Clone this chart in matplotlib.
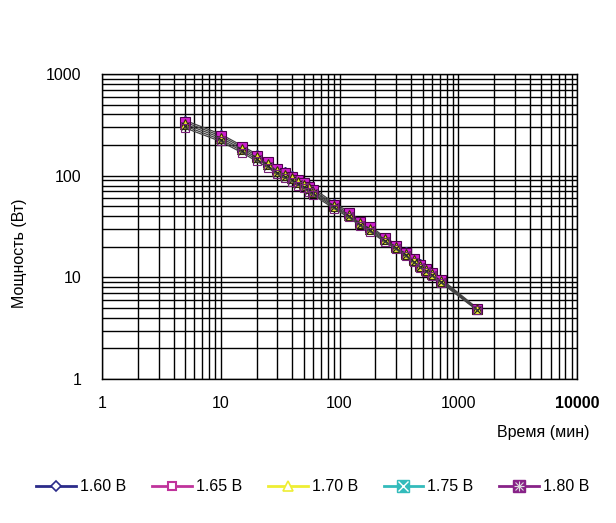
import matplotlib
matplotlib.use("Agg")
import matplotlib.pyplot as plt
from matplotlib.lines import Line2D
from matplotlib.ticker import LogLocator, NullFormatter

plt.rcParams['font.family'] = ['Liberation Sans', 'DejaVu Sans']

# time, minutes
time_min = [5, 10, 15, 20, 25, 30, 35, 40, 45, 50, 55, 60, 90, 120, 150,
            180, 240, 300, 360, 420, 480, 540, 600, 720, 1440]

# power, W, for each end voltage
p_160 = [350, 256, 198, 163, 140, 120, 110, 102, 93, 87, 81, 75, 54, 44, 36,
         32, 25, 21, 18, 15.5, 13.7, 12.4, 11.3, 9.6, 5.0]
p_165 = [336, 246, 191, 157, 135, 116, 106, 98, 90, 84, 78, 72, 52, 42.5, 35,
         31, 24.3, 20.4, 17.5, 15.1, 13.3, 12.1, 11.0, 9.4, 4.9]
p_170 = [322, 236, 183, 151, 130, 111, 102, 94, 86, 81, 75, 69.5, 50.5, 41, 34,
         30, 23.6, 19.8, 17.0, 14.7, 13.0, 11.8, 10.7, 9.2, 4.85]
p_175 = [308, 226, 176, 145, 125, 107, 98, 90.5, 83, 78, 72, 67, 49, 40, 33,
         29, 23.0, 19.3, 16.6, 14.3, 12.7, 11.5, 10.5, 9.0, 4.8]
p_180 = [295, 217, 169, 139, 120, 103, 94, 87, 80, 75, 69.5, 64.5, 47.5, 38.8, 32,
         28.2, 22.4, 18.8, 16.2, 14.0, 12.4, 11.2, 10.3, 8.8, 4.75]

labels = ['1.60 В', '1.65 В', '1.70 В', '1.75 В', '1.80 В']
colors = ['#2b2b8a', '#c0339c', '#eeee33', '#33bbbb', '#882288']

fig = plt.figure(figsize=(6.16, 5.23), dpi=100)
ax = fig.add_axes([0.1656, 0.2753, 0.7711, 0.5832])

line_kw = dict(color='#444444', lw=0.9)
ax.plot(time_min, p_160, marker='D', ms=4, mfc='white', mec=colors[0], **line_kw)
ax.plot(time_min, p_165, marker='s', ms=7, mfc='#d020d0', mec='#500050', mew=0.8, **line_kw)
ax.plot(time_min, p_170, marker='^', ms=7, mfc='#eeee33', mec='#333300', mew=0.8, **line_kw)
ax.plot(time_min, p_175, marker='x', ms=5.5, mec='#222222', mew=0.9, **line_kw)
ax.plot(time_min, p_180, marker='s', ms=6, mfc='none', mec='#772277', mew=0.8, **line_kw)

ax.set_xscale('log')
ax.set_yscale('log')
ax.set_xlim(1, 10000)
ax.set_ylim(1, 1000)

ax.xaxis.set_minor_locator(LogLocator(base=10, subs=range(2, 10)))
ax.yaxis.set_minor_locator(LogLocator(base=10, subs=range(2, 10)))
ax.xaxis.set_minor_formatter(NullFormatter())
ax.yaxis.set_minor_formatter(NullFormatter())
ax.set_xticks([1, 10, 100, 1000, 10000])
ax.set_xticklabels(['1', '10', '100', '1000', '10000'])
ax.set_yticks([1, 10, 100, 1000])
ax.set_yticklabels(['1', '10', '100', '1000'])
ax.get_xticklabels()[-1].set_fontweight('bold')

ax.tick_params(which='both', length=0)
ax.tick_params(axis='x', pad=12, labelsize=11.5)
ax.tick_params(axis='y', pad=15, labelsize=11.5)

ax.grid(which='both', color='black', lw=1.0)
for s in ax.spines.values():
    s.set_color('black')
    s.set_linewidth(1.0)

fig.text(0.032, 1 - 253 / 523, 'Мощность (Вт)', rotation=90, ha='center', va='center', fontsize=11.5)
fig.text(0.957, 1 - 432 / 523, 'Время (мин)', ha='right', va='center', fontsize=11.5)

# legend handles like the original
h1 = Line2D([], [], color=colors[0], lw=2, marker='D', ms=5, mfc='white', mec=colors[0], mew=1.2)
h2 = Line2D([], [], color=colors[1], lw=2, marker='s', ms=6, mfc='white', mec=colors[1], mew=1.5)
h3 = Line2D([], [], color=colors[2], lw=2, marker='^', ms=6.5, mfc='white', mec=colors[2], mew=1.2)
h4a = Line2D([], [], color=colors[3], lw=2, marker='s', ms=9, mfc=colors[3], mec=colors[3])
h4b = Line2D([], [], ls='none', marker='x', ms=7, mec='white', mew=1)
h5a = Line2D([], [], color=colors[4], lw=2, marker='s', ms=9, mfc=colors[4], mec=colors[4])
h5b = Line2D([], [], ls='none', marker='x', ms=6, mec='#dddddd', mew=0.8)
h5c = Line2D([], [], ls='none', marker='+', ms=7, mec='#dddddd', mew=0.8)

fig.legend([h1, h2, h3, (h4a, h4b), (h5a, h5b, h5c)], labels,
           loc='center', bbox_to_anchor=(0.508, 1 - 487 / 523), ncol=5,
           frameon=False, fontsize=11.5, handlelength=2.5, handletextpad=0.25,
           columnspacing=1.6)

fig.savefig('out.png', dpi=100)
